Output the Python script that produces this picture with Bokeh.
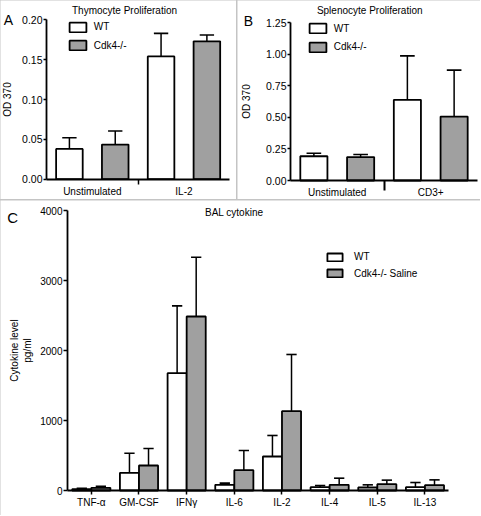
from bokeh.plotting import figure
from bokeh.models import Range1d, FixedTicker, NumeralTickFormatter, Label, Legend, LegendItem
from bokeh.layouts import row, column
from bokeh.embed import file_html
from bokeh.resources import INLINE

FONT = "Liberation Sans"
GRAY = "#a0a0a0"
SEP = "#c4c4c4"
LW = 1.8

# ---------------- Panel A: Thymocyte proliferation ----------------
a_groups = ["Unstimulated", "IL-2"]
a_wt = [0.038, 0.154]
a_wt_err = [0.014, 0.029]
a_ko = [0.0435, 0.173]
a_ko_err = [0.017, 0.008]
a_yticks = [0.0, 0.05, 0.10, 0.15, 0.20]

# ---------------- Panel B: Splenocyte proliferation ----------------
b_groups = ["Unstimulated", "CD3+"]
b_wt = [0.192, 0.638]
b_wt_err = [0.024, 0.348]
b_ko = [0.185, 0.506]
b_ko_err = [0.021, 0.367]
b_yticks = [0.0, 0.25, 0.50, 0.75, 1.00, 1.25]

# ---------------- Panel C: BAL cytokine ----------------
c_groups = ["TNF-\u03b1", "GM-CSF", "IFN\u03b3", "IL-6", "IL-2", "IL-4", "IL-5", "IL-13"]
c_wt = [20, 253, 1676, 81, 486, 48, 43, 48]
c_wt_err = [12, 280, 962, 24, 300, 23, 38, 66]
c_ko = [38, 357, 2486, 290, 1133, 81, 90, 76]
c_ko_err = [22, 243, 847, 281, 810, 95, 58, 76]
c_yticks = [0, 1000, 2000, 3000, 4000]


class Mapper:
    """Maps pixel positions of the axes inside a figure to data ranges."""
    def __init__(self, W, H, xpx, xdat, ypx, ydat):
        px0, px1 = xpx
        dx0, dx1 = xdat
        self.sx = (px1 - px0) / (dx1 - dx0)
        self.xs = dx0 - px0 / self.sx
        self.xe = self.xs + W / self.sx
        pyt, pyb = ypx
        yb, yt = ydat
        self.sy = (pyb - pyt) / (yt - yb)
        self.ye = yt + pyt / self.sy
        self.ys = self.ye - H / self.sy

    def pt(self, px, py):
        return self.xs + px / self.sx, self.ye - py / self.sy


def style_axis(ax, size):
    ax.axis_line_width = LW
    ax.axis_line_color = "black"
    ax.major_tick_line_width = 1.5
    ax.major_tick_line_color = "black"
    ax.minor_tick_line_width = 1.5
    ax.minor_tick_line_color = "black"
    ax.major_label_text_font = FONT
    ax.major_label_text_font_size = size
    ax.major_label_text_color = "black"
    ax.axis_label_text_font = FONT
    ax.axis_label_text_font_size = "10px"
    ax.axis_label_text_font_style = "normal"
    ax.axis_label_text_color = "black"


def make_panel(groups, wt, wt_err, ko, ko_err, yticks, ymax, fmt, W, H, m,
               offset, bw, ytick_size):
    p = figure(width=W, height=H,
               x_range=Range1d(m.xs, m.xe), y_range=Range1d(m.ys, m.ye),
               output_backend="svg", toolbar_location=None,
               min_border_left=0, min_border_right=0,
               min_border_top=0, min_border_bottom=0,
               outline_line_color=None, background_fill_color="white",
               border_fill_color="white")
    p.xgrid.visible = False
    p.ygrid.visible = False
    n = len(groups)
    xs = list(range(n))
    x_wt = [x - offset for x in xs]
    x_ko = [x + offset for x in xs]
    cap = bw * 0.27
    for xc, v, e in ((x_wt, wt, wt_err), (x_ko, ko, ko_err)):
        tops = [a + b for a, b in zip(v, e)]
        p.segment(x0=xc, y0=v, x1=xc, y1=tops, line_color="black", line_width=1.5)
        p.segment(x0=[x - cap for x in xc], y0=tops, x1=[x + cap for x in xc], y1=tops,
                  line_color="black", line_width=1.6)
    r_wt = p.vbar(x=x_wt, top=wt, width=bw, fill_color="white",
                  line_color="black", line_width=LW)
    r_ko = p.vbar(x=x_ko, top=ko, width=bw, fill_color=GRAY,
                  line_color="black", line_width=LW)

    ya = p.yaxis[0]
    style_axis(ya, ytick_size)
    ya.fixed_location = -0.5
    ya.bounds = (0, ymax)
    ya.ticker = FixedTicker(ticks=yticks)
    ya.formatter = NumeralTickFormatter(format=fmt)
    ya.major_tick_out = 3
    ya.major_tick_in = 0
    ya.minor_tick_line_color = None
    ya.major_label_standoff = 1

    xa = p.xaxis[0]
    style_axis(xa, "10px")
    xa.fixed_location = 0
    xa.bounds = (-0.5, n - 0.5)
    xa.major_label_overrides = {i: g for i, g in zip(xs, groups)}
    return p, r_wt, r_ko, xs


def add_legend(p, H, renderers, labels, tops, left, gw, gh, standoff):
    # one single-item legend per series, each placed by the top of its swatch
    for r, lab, top in zip(renderers, labels, tops):
        leg = Legend(items=[LegendItem(label=lab, renderers=[r])],
                     location=(left, H - (top + gh)), glyph_width=gw, glyph_height=gh,
                     label_height=gh, spacing=0, padding=0, margin=0,
                     label_standoff=standoff, border_line_color=None,
                     background_fill_alpha=0, label_text_font=FONT,
                     label_text_font_size="10px", label_text_color="black")
        p.add_layout(leg)


def add_text(p, m, px, py, text, size, align, baseline):
    x, y = m.pt(px, py)
    p.add_layout(Label(x=x, y=y, text=text, text_font=FONT, text_font_size=size,
                       text_align=align, text_baseline=baseline, text_color="black"))


# ---- Panel A ----
WA, HA = 236, 199
mA = Mapper(WA, HA, (46, 229.3), (-0.5, 1.5), (19.3, 178.7), (0, 0.20))
pA, rA1, rA2, xsA = make_panel(a_groups, a_wt, a_wt_err, a_ko, a_ko_err, a_yticks, 0.20,
                               "0.00", WA, HA, mA, 0.25, 0.29, "10.5px")
pA.xaxis.ticker = FixedTicker(ticks=xsA, minor_ticks=[0.5])
pA.xaxis.major_tick_out = 0
pA.xaxis.major_tick_in = 0
pA.xaxis.minor_tick_out = 5
pA.xaxis.minor_tick_in = 0
pA.xaxis.major_label_standoff = 2
pA.yaxis.axis_label = "OD 370"
pA.yaxis.axis_label_standoff = 6
add_legend(pA, HA, [rA1, rA2], ["WT", "Cdk4-/-"], [20.7, 39.3], 66.7, 21, 12, 6)
add_text(pA, mA, 124, 10, "Thymocyte Proliferation", "10px", "center", "middle")
add_text(pA, mA, 3.3, 19.3, "A", "14px", "left", "alphabetic")

# ---- Panel B ----
WB, HB = 243, 199
mB = Mapper(WB, HB, (53, 240), (-0.5, 1.5), (22, 180), (0, 1.25))
pB, rB1, rB2, xsB = make_panel(b_groups, b_wt, b_wt_err, b_ko, b_ko_err, b_yticks, 1.25,
                               "0.00", WB, HB, mB, 0.25, 0.29, "10.5px")
pB.xaxis.ticker = FixedTicker(ticks=xsB, minor_ticks=[0.5])
pB.xaxis.major_tick_out = 0
pB.xaxis.major_tick_in = 0
pB.xaxis.minor_tick_out = 10
pB.xaxis.minor_tick_in = 0
pB.xaxis.minor_tick_line_width = 2
pB.xaxis.major_label_standoff = -4
pB.yaxis.axis_label = "OD 370"
pB.yaxis.axis_label_standoff = 11
add_legend(pB, HB, [rB1, rB2], ["WT", "Cdk4-/-"], [22.0, 40.7], 69.7, 21, 12, 6)
add_text(pB, mB, 132.2, 9.7, "Splenocyte Proliferation", "10px", "center", "middle")
add_text(pB, mB, 6.3, 20, "B", "14px", "left", "alphabetic")

# ---- Panel C ----
WC, HC = 480, 315
mC = Mapper(WC, HC, (67, 448.3), (-0.5, 7.5), (10, 290), (0, 4000))
pC, rC1, rC2, xsC = make_panel(c_groups, c_wt, c_wt_err, c_ko, c_ko_err, c_yticks, 4000,
                               "0", WC, HC, mC, 0.2, 0.4, "10px")
pC.xaxis.ticker = FixedTicker(ticks=xsC)
pC.xaxis.major_tick_out = 4
pC.xaxis.major_tick_in = 0
pC.xaxis.minor_tick_line_color = None
pC.xaxis.major_label_standoff = 2
pC.yaxis.major_tick_out = 4
pC.yaxis.axis_label = "Cytokine level\npg/ml"
pC.yaxis.axis_label_standoff = 4
add_legend(pC, HC, [rC1, rC2], ["WT", "Cdk4-/- Saline"], [52.3, 68.5], 325, 19, 10, 10)
add_text(pC, mC, 233.7, 11.5, "BAL cytokine", "10px", "center", "middle")
add_text(pC, mC, 6.7, 16.7, "C", "15px", "left", "alphabetic")

top = row(pA, pB, spacing=1, styles={"background-color": SEP})
layout = column(top, pC, spacing=1, styles={"background-color": SEP})

open("out.html", "w").write(file_html(layout, INLINE))
